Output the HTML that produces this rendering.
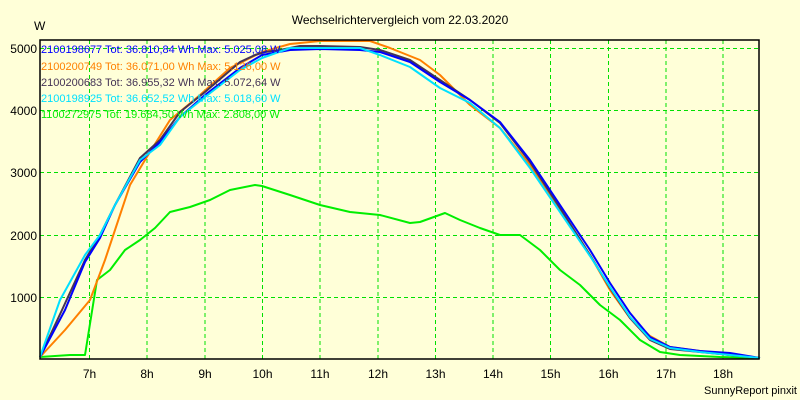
<!DOCTYPE html>
<html><head><meta charset="utf-8"><style>
html,body{margin:0;padding:0;background:#ffffd8;}
svg{display:block;font-family:"Liberation Sans",sans-serif;}
</style></head><body>
<svg width="800" height="400" viewBox="0 0 800 400" xmlns="http://www.w3.org/2000/svg">
<rect width="800" height="400" fill="#ffffd8"/>
<text x="400" y="24" font-size="12" text-anchor="middle" fill="#000">Wechselrichtervergleich vom 22.03.2020</text>
<text x="34" y="30" font-size="12" fill="#000">W</text>
<g stroke="#00e000" stroke-width="1" stroke-dasharray="4,3">
<line x1="40" y1="48.5" x2="759" y2="48.5"/><line x1="40" y1="110.5" x2="759" y2="110.5"/>
<line x1="40" y1="172.5" x2="759" y2="172.5"/><line x1="40" y1="235.5" x2="759" y2="235.5"/>
<line x1="40" y1="297.5" x2="759" y2="297.5"/>
<line x1="89.5" y1="40" x2="89.5" y2="359"/><line x1="147" y1="40" x2="147" y2="359"/>
<line x1="205" y1="40" x2="205" y2="359"/><line x1="262.5" y1="40" x2="262.5" y2="359"/>
<line x1="320" y1="40" x2="320" y2="359"/><line x1="378" y1="40" x2="378" y2="359"/>
<line x1="435.5" y1="40" x2="435.5" y2="359"/><line x1="493" y1="40" x2="493" y2="359"/>
<line x1="550.5" y1="40" x2="550.5" y2="359"/><line x1="608.5" y1="40" x2="608.5" y2="359"/>
<line x1="666" y1="40" x2="666" y2="359"/><line x1="723" y1="40" x2="723" y2="359"/>
</g>
<g font-size="12" fill="#000" text-anchor="end">
<text x="37" y="53">5000</text><text x="37" y="115">4000</text><text x="37" y="177">3000</text>
<text x="37" y="240">2000</text><text x="37" y="302">1000</text>
</g>
<g font-size="12" fill="#000" text-anchor="middle">
<text x="89.5" y="378">7h</text><text x="147" y="378">8h</text><text x="205" y="378">9h</text>
<text x="262.5" y="378">10h</text><text x="320" y="378">11h</text><text x="378" y="378">12h</text>
<text x="435.5" y="378">13h</text><text x="493" y="378">14h</text><text x="550.5" y="378">15h</text>
<text x="608.5" y="378">16h</text><text x="666" y="378">17h</text><text x="723" y="378">18h</text>
</g>
<text x="797" y="394" font-size="11" text-anchor="end" fill="#000">SunnyReport pinxit</text>
<g fill="none" stroke-width="2" stroke-linejoin="round">
<polyline stroke="#00ee00" points="40,357 70,355 85,355 97,280 110,270 125,250 140,240 155,228 170,212 190,207 210,200 230,190 255,185 262,186 290,195 320,205 350,212 380,215 410,223 420,222 445,213 460,220 480,228 500,235 520,235 540,250 560,270 580,285 600,305 620,320 640,340 660,352 680,355 720,357 757,358"/>
<polyline stroke="#ff8000" points="40,357 65,330 90,300 105,260 115,230 130,185 145,160 170,120 200,95 230,68 262,52 290,44 320,41 370,41 390,48 420,60 440,75 470,105 500,128 530,165 560,210 590,255 610,290 630,318 650,336 670,347 700,351 730,355 760,358"/>
<polyline stroke="#443355" points="40,357 62,310 85,260 100,235 115,205 140,158 160,140 180,112 205,92 240,62 255,55 265,52 280,50 300,46 320,46 360,47 380,50 410,60 440,80 470,100 500,123 530,162 560,208 590,255 610,288 630,318 650,340 670,349 700,352 730,355 760,358"/>
<polyline stroke="#0000ff" points="40,357 65,310 85,262 100,238 115,205 140,162 160,142 180,117 205,95 240,68 262,55 290,50 320,49 360,50 380,52 410,62 440,82 470,100 500,122 530,160 560,205 590,250 610,283 630,313 650,337 670,347 700,351 730,353 760,358"/>
<polyline stroke="#00e0ff" points="40,357 60,300 85,255 100,235 115,205 140,160 160,145 180,117 205,97 240,70 262,58 290,48 320,48 360,48 380,55 410,67 440,88 470,103 500,128 530,168 560,212 590,256 610,287 630,317 650,339 670,348 700,352 730,355 760,358"/>
</g>
<rect x="40" y="40" width="719" height="319" fill="none" stroke="#000" stroke-width="1.5"/>
<g font-size="11">
<text x="41" y="53" fill="#0000ff">2100198677 Tot: 36.810,84 Wh Max: 5.025,08 W</text>
<text x="41" y="70" fill="#ff8000">2100200749 Tot: 36.071,00 Wh Max: 5.126,00 W</text>
<text x="41" y="86" fill="#443355">2100200683 Tot: 36.955,32 Wh Max: 5.072,64 W</text>
<text x="41" y="102" fill="#00e0ff">2100198925 Tot: 36.652,52 Wh Max: 5.018,60 W</text>
<text x="41" y="118" fill="#00ee00">1100272975 Tot: 19.684,50 Wh Max: 2.808,00 W</text>
</g>
</svg>
</body></html>
